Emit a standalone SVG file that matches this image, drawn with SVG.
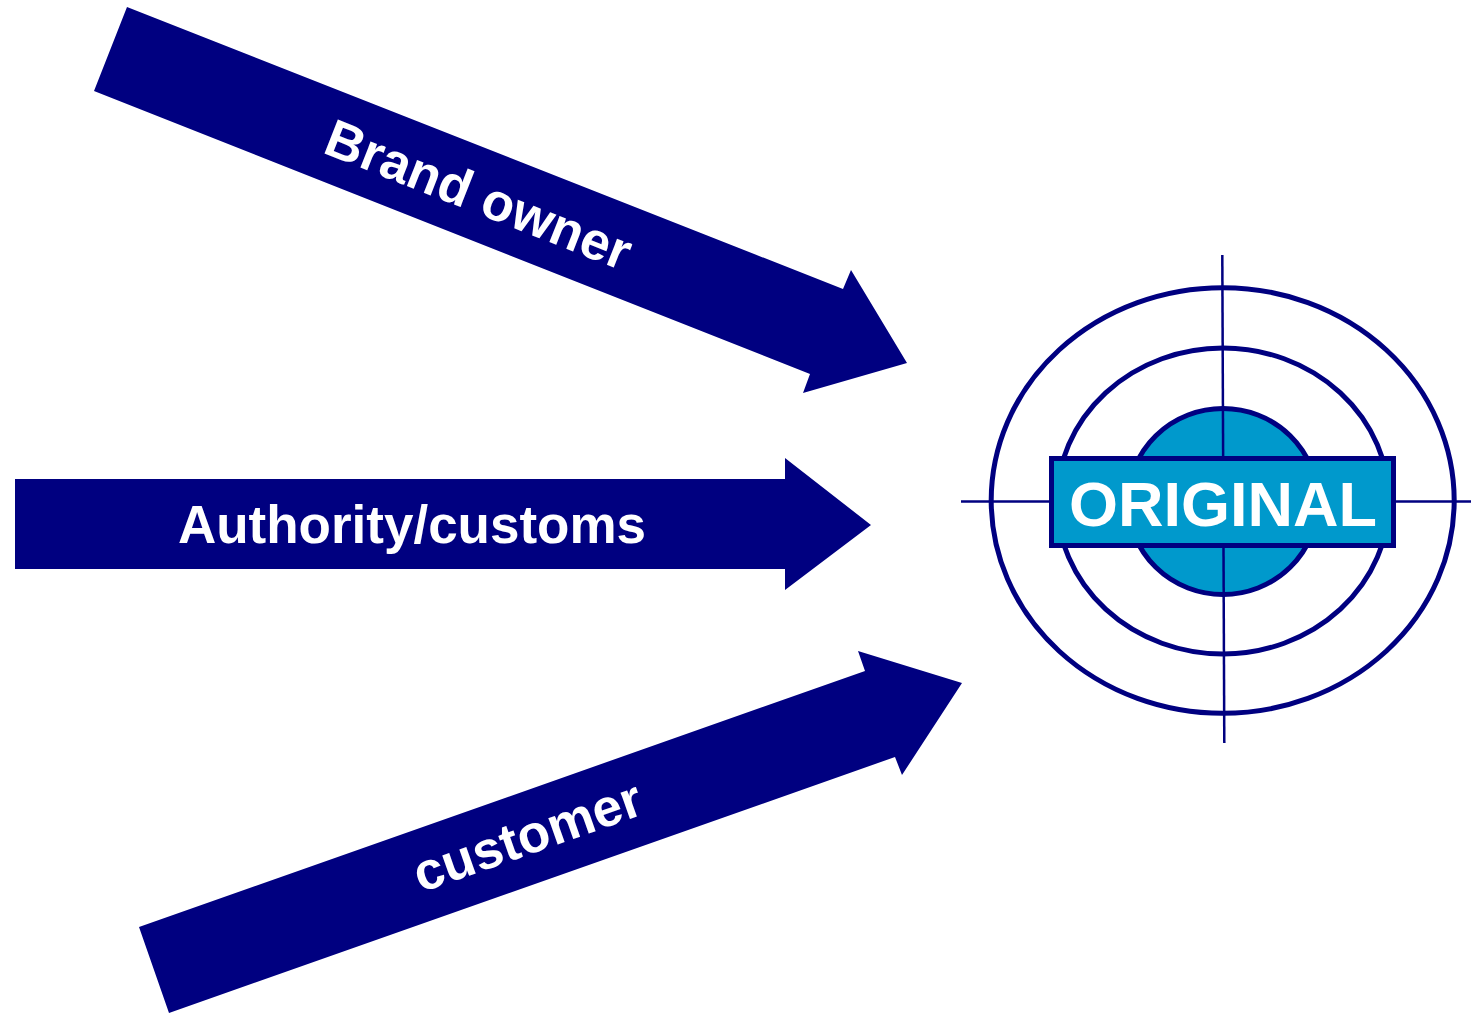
<svg xmlns="http://www.w3.org/2000/svg" width="1471" height="1013" viewBox="0 0 1471 1013">
  <style>
    .arrow { fill: #000080; stroke: none; }
    .lbl { font-family: "Liberation Sans", Arial, sans-serif; font-weight: bold; font-size: 53px; fill: #ffffff; text-anchor: middle; }
    .ring { fill: none; stroke: #000080; stroke-width: 5; }
    .cross { stroke: #000080; stroke-width: 2.5; fill: none; }
  </style>
  <rect x="0" y="0" width="1471" height="1013" fill="#ffffff"/>
  <g id="connectors">
    <g id="arrow-brand-owner">
      <polygon class="arrow" points="127,7 843,289 851,270 907,363 803,393 810,374 94,91"/>
      <text class="lbl" transform="translate(479,194) rotate(21.5)" x="0" y="19">Brand owner</text>
    </g>
    <g id="arrow-authority">
      <polygon class="arrow" points="15,479 785,479 785,458 871,525 785,590 785,569 15,569"/>
      <text class="lbl" x="412" y="543">Authority/customs</text>
    </g>
    <g id="arrow-customer">
      <polygon class="arrow" points="139,927 865,671 858,651 962,683 902,775 895,757 169,1013"/>
      <text class="lbl" transform="translate(528,838) rotate(-19.42)" x="0" y="16">customer</text>
    </g>
  </g>
  <g id="target-original">
    <ellipse class="ring" cx="1222.7" cy="500.5" rx="231.5" ry="212.8"/>
    <ellipse class="ring" cx="1223" cy="501" rx="166" ry="153"/>
    <ellipse cx="1223" cy="501.5" rx="95" ry="93" fill="#0099CC" stroke="#000080" stroke-width="5"/>
    <line class="cross" x1="961" y1="501.5" x2="1471" y2="501.5"/>
    <line class="cross" x1="1222.3" y1="255" x2="1224.3" y2="743"/>
    <rect x="1051.5" y="458.5" width="342" height="87" fill="#0099CC" stroke="#000080" stroke-width="5"/>
    <text x="1223" y="526" font-family="Liberation Sans, Arial, sans-serif" font-weight="bold" font-size="63" fill="#ffffff" text-anchor="middle">ORIGINAL</text>
  </g>
</svg>
